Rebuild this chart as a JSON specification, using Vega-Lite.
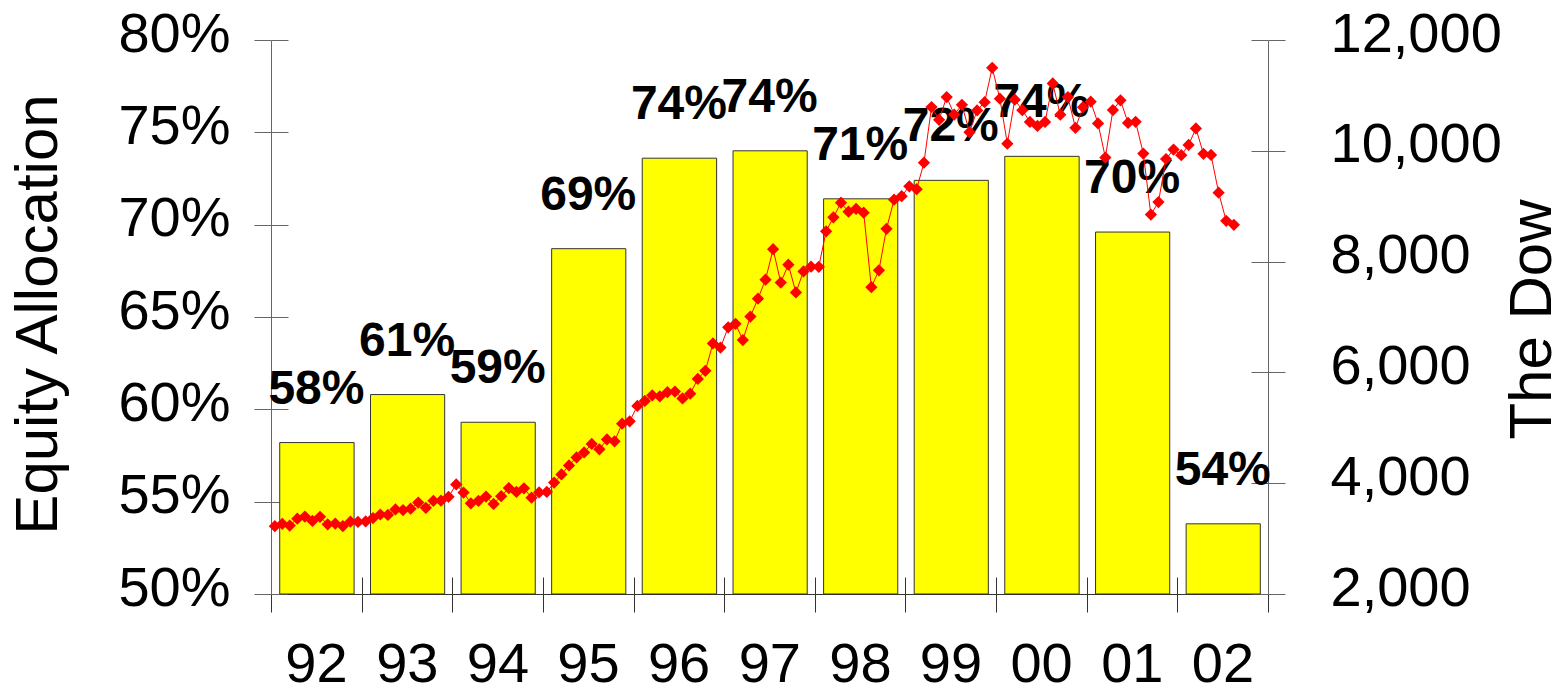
{
  "$schema": "https://vega.github.io/schema/vega-lite/v6.json",
  "width": 997,
  "height": 554,
  "autosize": {"type": "none"},
  "padding": {"left": 271, "top": 40, "right": 298, "bottom": 98},
  "config": {
    "view": {"stroke": null},
    "font": "Liberation Sans",
    "axis": {"grid": false, "labelColor": "#000000", "titleColor": "#000000"}
  },
  "datasets": {
    "alloc": [
      {"year": "1992", "pct": 0.582},
      {"year": "1993", "pct": 0.608},
      {"year": "1994", "pct": 0.593},
      {"year": "1995", "pct": 0.687},
      {"year": "1996", "pct": 0.736},
      {"year": "1997", "pct": 0.740},
      {"year": "1998", "pct": 0.714},
      {"year": "1999", "pct": 0.724},
      {"year": "2000", "pct": 0.737},
      {"year": "2001", "pct": 0.696},
      {"year": "2002", "pct": 0.538}
    ],
    "dow": [
      {"month": "1992-01", "dow": 3223}, {"month": "1992-02", "dow": 3268}, {"month": "1992-03", "dow": 3236}, {"month": "1992-04", "dow": 3359},
      {"month": "1992-05", "dow": 3397}, {"month": "1992-06", "dow": 3319}, {"month": "1992-07", "dow": 3394}, {"month": "1992-08", "dow": 3257},
      {"month": "1992-09", "dow": 3272}, {"month": "1992-10", "dow": 3226}, {"month": "1992-11", "dow": 3305}, {"month": "1992-12", "dow": 3301},
      {"month": "1993-01", "dow": 3310}, {"month": "1993-02", "dow": 3371}, {"month": "1993-03", "dow": 3435}, {"month": "1993-04", "dow": 3428},
      {"month": "1993-05", "dow": 3527}, {"month": "1993-06", "dow": 3516}, {"month": "1993-07", "dow": 3540}, {"month": "1993-08", "dow": 3651},
      {"month": "1993-09", "dow": 3555}, {"month": "1993-10", "dow": 3681}, {"month": "1993-11", "dow": 3684}, {"month": "1993-12", "dow": 3754},
      {"month": "1994-01", "dow": 3978}, {"month": "1994-02", "dow": 3832}, {"month": "1994-03", "dow": 3636}, {"month": "1994-04", "dow": 3682},
      {"month": "1994-05", "dow": 3758}, {"month": "1994-06", "dow": 3625}, {"month": "1994-07", "dow": 3765}, {"month": "1994-08", "dow": 3913},
      {"month": "1994-09", "dow": 3843}, {"month": "1994-10", "dow": 3908}, {"month": "1994-11", "dow": 3739}, {"month": "1994-12", "dow": 3834},
      {"month": "1995-01", "dow": 3843}, {"month": "1995-02", "dow": 4011}, {"month": "1995-03", "dow": 4158}, {"month": "1995-04", "dow": 4321},
      {"month": "1995-05", "dow": 4465}, {"month": "1995-06", "dow": 4556}, {"month": "1995-07", "dow": 4709}, {"month": "1995-08", "dow": 4611},
      {"month": "1995-09", "dow": 4789}, {"month": "1995-10", "dow": 4756}, {"month": "1995-11", "dow": 5075}, {"month": "1995-12", "dow": 5117},
      {"month": "1996-01", "dow": 5395}, {"month": "1996-02", "dow": 5486}, {"month": "1996-03", "dow": 5587}, {"month": "1996-04", "dow": 5569},
      {"month": "1996-05", "dow": 5643}, {"month": "1996-06", "dow": 5655}, {"month": "1996-07", "dow": 5529}, {"month": "1996-08", "dow": 5616},
      {"month": "1996-09", "dow": 5882}, {"month": "1996-10", "dow": 6029}, {"month": "1996-11", "dow": 6522}, {"month": "1996-12", "dow": 6448},
      {"month": "1997-01", "dow": 6813}, {"month": "1997-02", "dow": 6878}, {"month": "1997-03", "dow": 6584}, {"month": "1997-04", "dow": 7009},
      {"month": "1997-05", "dow": 7331}, {"month": "1997-06", "dow": 7673}, {"month": "1997-07", "dow": 8223}, {"month": "1997-08", "dow": 7622},
      {"month": "1997-09", "dow": 7945}, {"month": "1997-10", "dow": 7443}, {"month": "1997-11", "dow": 7823}, {"month": "1997-12", "dow": 7908},
      {"month": "1998-01", "dow": 7907}, {"month": "1998-02", "dow": 8546}, {"month": "1998-03", "dow": 8800}, {"month": "1998-04", "dow": 9063},
      {"month": "1998-05", "dow": 8900}, {"month": "1998-06", "dow": 8952}, {"month": "1998-07", "dow": 8883}, {"month": "1998-08", "dow": 7539},
      {"month": "1998-09", "dow": 7843}, {"month": "1998-10", "dow": 8592}, {"month": "1998-11", "dow": 9117}, {"month": "1998-12", "dow": 9181},
      {"month": "1999-01", "dow": 9359}, {"month": "1999-02", "dow": 9307}, {"month": "1999-03", "dow": 9786}, {"month": "1999-04", "dow": 10789},
      {"month": "1999-05", "dow": 10560}, {"month": "1999-06", "dow": 10971}, {"month": "1999-07", "dow": 10655}, {"month": "1999-08", "dow": 10829},
      {"month": "1999-09", "dow": 10337}, {"month": "1999-10", "dow": 10729}, {"month": "1999-11", "dow": 10878}, {"month": "1999-12", "dow": 11497},
      {"month": "2000-01", "dow": 10941}, {"month": "2000-02", "dow": 10128}, {"month": "2000-03", "dow": 10922}, {"month": "2000-04", "dow": 10734},
      {"month": "2000-05", "dow": 10522}, {"month": "2000-06", "dow": 10448}, {"month": "2000-07", "dow": 10522}, {"month": "2000-08", "dow": 11215},
      {"month": "2000-09", "dow": 10651}, {"month": "2000-10", "dow": 10971}, {"month": "2000-11", "dow": 10415}, {"month": "2000-12", "dow": 10787},
      {"month": "2001-01", "dow": 10887}, {"month": "2001-02", "dow": 10495}, {"month": "2001-03", "dow": 9879}, {"month": "2001-04", "dow": 10735},
      {"month": "2001-05", "dow": 10912}, {"month": "2001-06", "dow": 10502}, {"month": "2001-07", "dow": 10523}, {"month": "2001-08", "dow": 9950},
      {"month": "2001-09", "dow": 8848}, {"month": "2001-10", "dow": 9075}, {"month": "2001-11", "dow": 9852}, {"month": "2001-12", "dow": 10022},
      {"month": "2002-01", "dow": 9920}, {"month": "2002-02", "dow": 10106}, {"month": "2002-03", "dow": 10404}, {"month": "2002-04", "dow": 9946},
      {"month": "2002-05", "dow": 9925}, {"month": "2002-06", "dow": 9243}, {"month": "2002-07", "dow": 8737}, {"month": "2002-08", "dow": 8664}
    ]
  },
  "layer": [
    {
      "data": {"name": "alloc"},
      "layer": [
        {
          "mark": {"type": "bar", "color": "#FFFF00", "stroke": "#333333", "strokeWidth": 1, "width": {"band": 0.83}},
          "encoding": {
            "x": {
              "field": "year", "type": "temporal", "timeUnit": "utcyear",
              "scale": {"type": "utc", "domain": [{"year": 1992, "utc": true}, {"year": 2003, "utc": true}], "nice": false},
              "axis": {
                "orient": "bottom",
                "title": null,
                "values": [{"year": 1992, "utc": true}, {"year": 1993, "utc": true}, {"year": 1994, "utc": true}, {"year": 1995, "utc": true}, {"year": 1996, "utc": true}, {"year": 1997, "utc": true}, {"year": 1998, "utc": true}, {"year": 1999, "utc": true}, {"year": 2000, "utc": true}, {"year": 2001, "utc": true}, {"year": 2002, "utc": true}, {"year": 2003, "utc": true}],
                "labelExpr": "utcyear(datum.value) >= 2003 ? '' : utcFormat(datum.value, '%y')",
                "tickSize": 18, "tickColor": "#333333", "domainColor": "#333333",
                "labelFontSize": 56, "labelPadding": 25, "labelOffset": 45, "labelAlign": "center",
                "labelFlush": false, "labelOverlap": false
              }
            },
            "y": {
              "field": "pct", "type": "quantitative",
              "scale": {"domain": [0.5, 0.8], "nice": false, "zero": false},
              "axis": {
                "orient": "left",
                "values": [0.5, 0.55, 0.6, 0.65, 0.7, 0.75, 0.8],
                "format": ".0%",
                "tickSize": 17, "tickColor": "#666666", "domainColor": "#666666",
                "labelFontSize": 56, "labelPadding": 24, "labelBaseline": "alphabetic", "labelOffset": 11, "labelOverlap": false,
                "title": "Equity Allocation", "titleFontSize": 60, "titleFontWeight": "normal",
                "titleAngle": 270, "titleX": -215, "titleY": 274, "titleAlign": "center", "titleBaseline": "alphabetic"
              }
            },
            "y2": {"datum": 0.5}
          }
        },
        {
          "mark": {"type": "text", "fontSize": 48, "fontWeight": "bold", "baseline": "alphabetic", "dy": -39, "color": "#000000"},
          "encoding": {
            "x": {
              "field": "year", "type": "temporal", "timeUnit": "utcyear", "bandPosition": 0.5,
              "scale": {"type": "utc", "domain": [{"year": 1992, "utc": true}, {"year": 2003, "utc": true}], "nice": false},
              "axis": {
                "orient": "bottom",
                "title": null, "labels": false, "domain": false,
                "values": [{"year": 1992, "utc": true}, {"year": 1993, "utc": true}, {"year": 1994, "utc": true}, {"year": 1995, "utc": true}, {"year": 1996, "utc": true}, {"year": 1997, "utc": true}, {"year": 1998, "utc": true}, {"year": 1999, "utc": true}, {"year": 2000, "utc": true}, {"year": 2001, "utc": true}, {"year": 2002, "utc": true}, {"year": 2003, "utc": true}],
                "tickSize": -17, "tickColor": "#333333"
              }
            },
            "y": {
              "field": "pct", "type": "quantitative",
              "scale": {"domain": [0.5, 0.8], "nice": false, "zero": false},
              "axis": {
                "orient": "left", "title": null, "labels": false, "domain": false,
                "values": [0.5, 0.55, 0.6, 0.65, 0.7, 0.75, 0.8],
                "tickSize": -17, "tickColor": "#666666"
              }
            },
            "text": {"field": "pct", "type": "quantitative", "format": ".0%"}
          }
        }
      ],
      "resolve": {"axis": {"x": "independent", "y": "independent"}}
    },
    {
      "data": {"name": "dow"},
      "layer": [
        {
          "mark": {"type": "line", "color": "#FF0000", "strokeWidth": 1},
          "encoding": {
            "x": {
              "field": "month", "type": "temporal", "timeUnit": "utcyearmonth", "bandPosition": 0.5,
              "scale": {"type": "utc", "domain": [{"year": 1992, "utc": true}, {"year": 2003, "utc": true}], "nice": false},
              "axis": null
            },
            "y": {
              "field": "dow", "type": "quantitative",
              "scale": {"domain": [2000, 12000], "nice": false, "zero": false},
              "axis": {
                "orient": "right",
                "values": [2000, 4000, 6000, 8000, 10000, 12000],
                "format": ",.0f",
                "tickSize": 17, "tickColor": "#666666", "domainColor": "#666666",
                "labelFontSize": 56, "labelPadding": 45, "labelBaseline": "alphabetic", "labelOffset": 11, "labelOverlap": false,
                "title": "The Dow", "titleFontSize": 60, "titleFontWeight": "normal",
                "titleAngle": 270, "titleX": 282, "titleY": 279, "titleAlign": "center", "titleBaseline": "alphabetic"
              }
            }
          }
        },
        {
          "mark": {"type": "point", "shape": "diamond", "filled": true, "size": 150, "color": "#FF0000", "opacity": 1},
          "encoding": {
            "x": {
              "field": "month", "type": "temporal", "timeUnit": "utcyearmonth", "bandPosition": 0.5,
              "scale": {"type": "utc", "domain": [{"year": 1992, "utc": true}, {"year": 2003, "utc": true}], "nice": false},
              "axis": null
            },
            "y": {
              "field": "dow", "type": "quantitative",
              "scale": {"domain": [2000, 12000], "nice": false, "zero": false},
              "axis": {
                "orient": "right", "title": null, "labels": false, "domain": false,
                "values": [2000, 4000, 6000, 8000, 10000, 12000],
                "tickSize": -17, "tickColor": "#666666"
              }
            }
          }
        }
      ],
      "resolve": {"axis": {"x": "independent", "y": "independent"}}
    }
  ],
  "resolve": {"scale": {"y": "independent"}, "axis": {"x": "independent", "y": "independent"}}
}
